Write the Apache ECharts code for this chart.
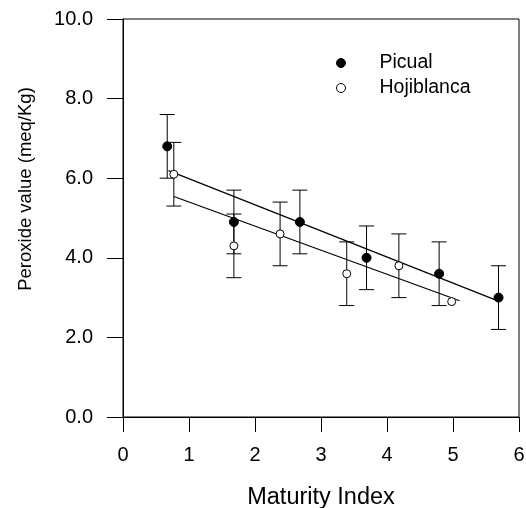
<!DOCTYPE html>
<html><head><meta charset="utf-8">
<script src="https://cdn.jsdelivr.net/npm/echarts@6/dist/echarts.min.js"></script>
<style>html,body{margin:0;padding:0;background:#fff}#c{width:526px;height:508px}</style>
</head><body><div id="c"></div>
<script>
const picualX = [0.67, 1.68, 2.68, 3.69, 4.79, 5.69];
const picualY = [6.8, 4.9, 4.9, 4.0, 3.6, 3.0];
const picualErr = [0.8, 0.8, 0.8, 0.8, 0.8, 0.8];
const hojiX = [0.77, 1.68, 2.38, 3.39, 4.18, 4.98];
const hojiY = [6.1, 4.3, 4.6, 3.6, 3.8, 2.9];
const hojiErr = [0.8, 0.8, 0.8, 0.8, 0.8, 0];
const picualFitX = [0.69, 5.69];
const picualFitY = [6.19, 2.91];
const hojiFitX = [0.77, 5.1];
const hojiFitY = [5.54, 2.92];
const xTickMin = 0, xTickMax = 6, xTickStep = 1;
const yTickMin = 0, yTickMax = 10, yTickStep = 2;

const FONT = "'Liberation Sans', Arial, sans-serif";
const chart = echarts.init(document.getElementById('c'), null, {renderer: 'canvas'});

function errData(xs, ys, es) {
  const out = [];
  xs.forEach((x, i) => { if (es[i] > 0) out.push([x, ys[i] - es[i], ys[i] + es[i]]); });
  return out;
}
function errSeries(name, data) {
  return {
    type: 'custom', name: name + ' err', data: data, z: 2, silent: true,
    renderItem: function (params, api) {
      const x = api.value(0), lo = api.value(1), hi = api.value(2);
      const t = api.coord([x, hi]), b = api.coord([x, lo]);
      const hw = 7.5;
      const st = {stroke: '#000', lineWidth: 1};
      return {type: 'group', children: [
        {type: 'line', shape: {x1: t[0], y1: t[1], x2: b[0], y2: b[1]}, style: st},
        {type: 'line', shape: {x1: t[0] - hw, y1: t[1], x2: t[0] + hw, y2: t[1]}, style: st},
        {type: 'line', shape: {x1: b[0] - hw, y1: b[1], x2: b[0] + hw, y2: b[1]}, style: st}
      ]};
    }
  };
}

const option = {
  animation: false,
  backgroundColor: '#fff',
  textStyle: {fontFamily: FONT, color: '#000'},
  grid: {left: 123, right: 7, top: 19, bottom: 91, show: true, borderColor: '#000', borderWidth: 1,
    containLabel: false, outerBoundsMode: 'none'},
  legend: {
    orient: 'vertical', left: 331, top: 48, itemWidth: 9, itemHeight: 9, itemGap: 5,
    icon: 'circle',
    textStyle: {fontFamily: FONT, fontSize: 19.5, color: '#000', padding: [0, 0, 0, 29]},
    data: [
      {name: 'Picual', itemStyle: {color: '#000', borderColor: '#000', borderWidth: 1}},
      {name: 'Hojiblanca', itemStyle: {color: '#fff', borderColor: '#000', borderWidth: 1}}
    ]
  },
  xAxis: {
    type: 'value', min: xTickMin, max: xTickMax, interval: xTickStep,
    name: 'Maturity Index', nameLocation: 'middle', nameGap: 69,
    nameTextStyle: {fontFamily: FONT, fontSize: 23.5, color: '#000'},
    axisLine: {show: true, lineStyle: {color: '#000', width: 1}},
    axisTick: {show: true, inside: false, length: 15, lineStyle: {color: '#000'}},
    axisLabel: {fontFamily: FONT, fontSize: 20, color: '#000', margin: 28},
    splitLine: {show: false}
  },
  yAxis: {
    type: 'value', min: yTickMin, max: yTickMax, interval: yTickStep,
    name: 'Peroxide value (meq/Kg)', nameLocation: 'middle', nameGap: 88, nameRotate: 90,
    nameTextStyle: {fontFamily: FONT, fontSize: 18.5, color: '#000', padding: [0, 0, 0, 58]},
    axisLine: {show: true, lineStyle: {color: '#000', width: 1}},
    axisTick: {show: true, inside: false, length: 16, lineStyle: {color: '#000'}},
    axisLabel: {fontFamily: FONT, fontSize: 20, color: '#000', margin: 30,
      formatter: v => v.toFixed(1)},
    splitLine: {show: false}
  },
  series: [
    errSeries('Picual', errData(picualX, picualY, picualErr)),
    errSeries('Hojiblanca', errData(hojiX, hojiY, hojiErr)),
    {type: 'line', name: 'Picual fit', data: picualFitX.map((x, i) => [x, picualFitY[i]]),
      symbol: 'none', lineStyle: {color: '#000', width: 1.2}, z: 3, silent: true},
    {type: 'line', name: 'Hojiblanca fit', data: hojiFitX.map((x, i) => [x, hojiFitY[i]]),
      symbol: 'none', lineStyle: {color: '#000', width: 1.2}, z: 3, silent: true},
    {type: 'scatter', name: 'Picual', data: picualX.map((x, i) => [x, picualY[i]]),
      symbol: 'circle', symbolSize: 9, itemStyle: {color: '#000', borderColor: '#000', borderWidth: 1, opacity: 1}, z: 5},
    {type: 'scatter', name: 'Hojiblanca', data: hojiX.map((x, i) => [x, hojiY[i]]),
      symbol: 'circle', symbolSize: 8, itemStyle: {color: '#fff', borderColor: '#000', borderWidth: 1, opacity: 1}, z: 5}
  ]
};
chart.setOption(option);
</script>
</body></html>
